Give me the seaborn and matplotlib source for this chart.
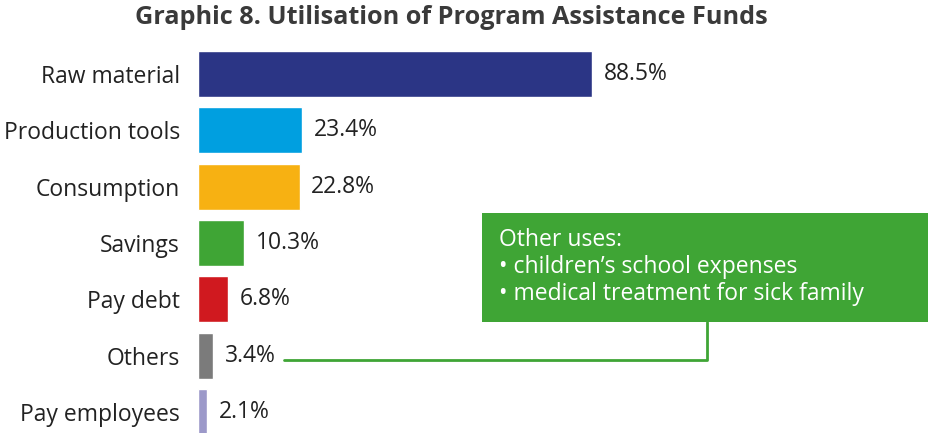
import matplotlib
matplotlib.use("Agg")
import matplotlib.pyplot as plt
import seaborn as sns
import pandas as pd
from matplotlib.patches import Rectangle
from matplotlib.lines import Line2D

categories = ["Raw material", "Production tools", "Consumption", "Savings",
              "Pay debt", "Others", "Pay employees"]
values = [88.5, 23.4, 22.8, 10.3, 6.8, 3.4, 2.1]
colors = ["#2B3585", "#009FE0", "#F7B112", "#3FA535", "#D0191F", "#7B7B7B", "#9C99C9"]
title = "Graphic 8. Utilisation of Program Assistance Funds"
note_lines = ["Other uses:", "\u2022 children\u2019s school expenses",
              "\u2022 medical treatment for sick family"]

sns.set_style("white")
plt.rcParams["font.family"] = ["Open Sans", "DejaVu Sans"]

W, H = 929, 433
fig = plt.figure(figsize=(W / 100, H / 100), dpi=100)
ax = fig.add_axes([198 / W, 0, 1 - 198 / W, 1])

df = pd.DataFrame({"category": categories, "value": values})
sns.barplot(data=df, x="value", y="category", hue="category",
            palette=colors, legend=False, width=0.82, ax=ax, saturation=1)

px_per_unit = 394 / 88.5
ax.set_xlim(0, (W - 198) / px_per_unit)
pitch = 56.33
ax.set_ylim((H - 74) / pitch, -74 / pitch)
ax.set_xlabel("")
ax.set_ylabel("")
ax.set_xticks([])
for s in ax.spines.values():
    s.set_visible(False)
ax.tick_params(axis="y", length=0, pad=13, labelsize=16.5, labelcolor="#222222")

for i, v in enumerate(values):
    ax.annotate(f"{v}%", xy=(v, i), xytext=(8.5, 0), textcoords="offset points",
                va="center", ha="left", fontsize=16.5, color="#222222")

fig.text(451 / W, 1 - 18 / H, title, ha="center", va="center",
         fontsize=18.2, fontweight="bold", color="#3a3a3a")

green = "#3FA535"
box = Rectangle((482 / W, 1 - 322 / H), (W - 482) / W, (322 - 213) / H,
                transform=fig.transFigure, facecolor=green, edgecolor="none")
fig.add_artist(box)
for k, line in enumerate(note_lines):
    fig.text(499 / W, 1 - (240 + 27 * k) / H, line, ha="left", va="center",
             fontsize=16.5, color="white")

fig.add_artist(Line2D([284 / W, 707 / W, 707 / W],
                      [1 - 360 / H, 1 - 360 / H, 1 - 322 / H],
                      transform=fig.transFigure, color=green, linewidth=2))

fig.savefig("out.png", dpi=100)
